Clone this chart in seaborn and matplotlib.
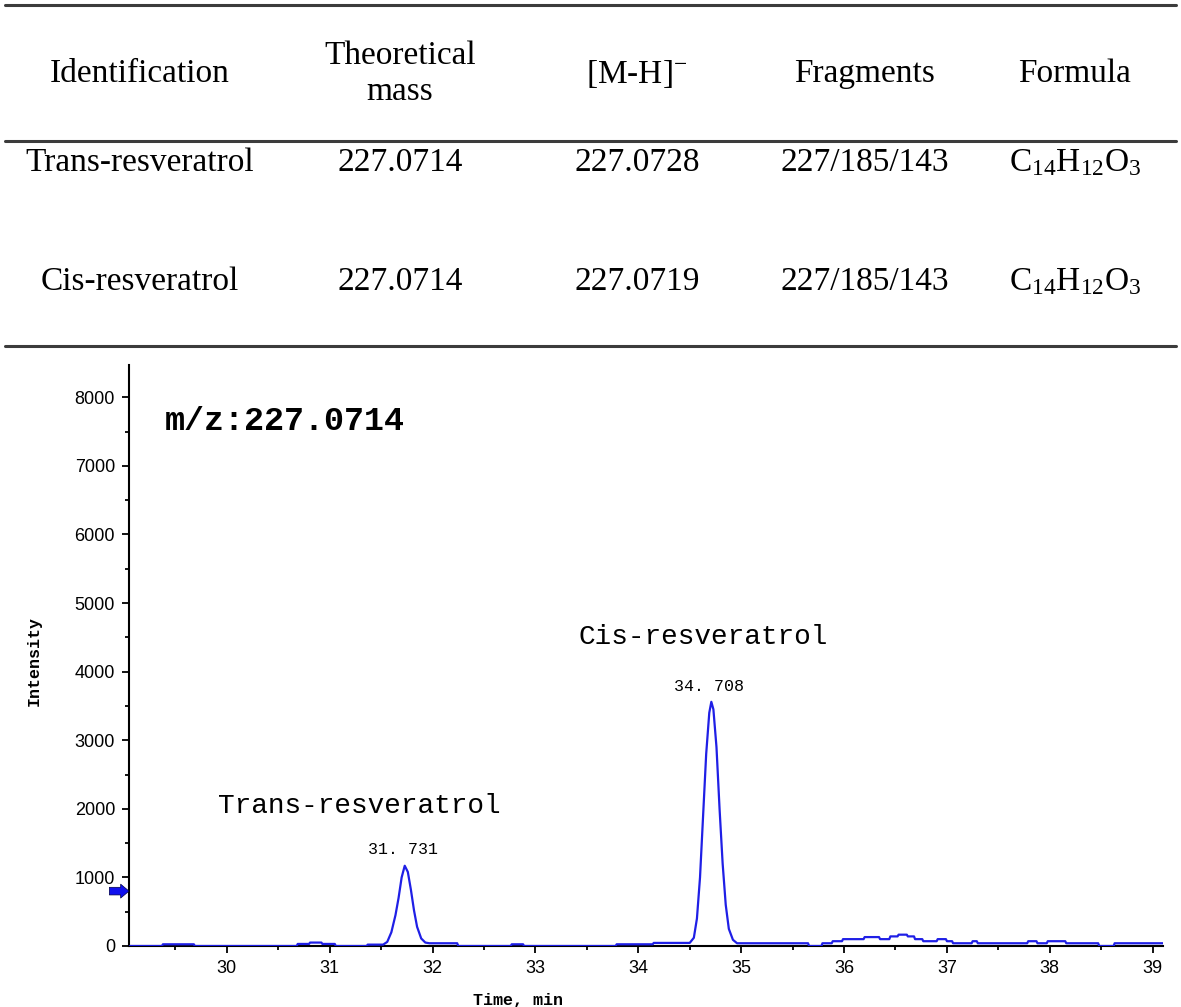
import numpy as np
import pandas as pd
import matplotlib
matplotlib.use("Agg")
import matplotlib.pyplot as plt
import seaborn as sns

# table content
col_headers = ["Identification", "Theoretical\nmass", "[M-H]$^{-}$", "Fragments", "Formula"]
compounds = ["Trans-resveratrol", "Cis-resveratrol"]
theo_mass = ["227.0714", "227.0714"]
measured_mass = ["227.0728", "227.0719"]
fragments = ["227/185/143", "227/185/143"]
formulas = ["C$_{14}$H$_{12}$O$_{3}$", "C$_{14}$H$_{12}$O$_{3}$"]

# extracted ion chromatogram
times = [29.06, 29.37, 29.38, 29.68, 29.69,
         30.68, 30.69, 30.80, 30.81, 30.92, 30.93, 31.05, 31.06,
         31.36, 31.37, 31.52, 31.56, 31.60, 31.64, 31.67, 31.70, 31.73,
         31.76, 31.79, 31.82, 31.85, 31.89, 31.93, 31.97, 32.24, 32.25,
         32.76, 32.77, 32.88, 32.89,
         33.78, 33.79, 34.14, 34.15, 34.50, 34.54, 34.57, 34.60, 34.63,
         34.66, 34.69, 34.71, 34.73, 34.76, 34.79, 34.82, 34.85, 34.88,
         34.92, 34.96, 35.65, 35.66, 35.78, 35.79, 35.88, 35.89, 35.98,
         35.99, 36.19, 36.20, 36.34, 36.35, 36.44, 36.45, 36.52, 36.53,
         36.61, 36.62, 36.68, 36.69, 36.76, 36.77, 36.90, 36.91, 36.99,
         37.00, 37.05, 37.06, 37.24, 37.25, 37.29, 37.30, 37.78, 37.79,
         37.87, 37.88, 37.97, 37.98, 38.15, 38.16, 38.47, 38.48, 38.62,
         38.63, 39.10]
intensity = [0, 0, 25, 25, 0,
             0, 30, 30, 50, 50, 30, 30, 0,
             0, 20, 20, 60, 200, 450, 700, 1000, 1170,
             1080, 820, 520, 280, 110, 50, 40, 40, 0,
             0, 25, 25, 0,
             0, 25, 25, 45, 45, 120, 400, 1000, 1900,
             2800, 3400, 3560, 3450, 2900, 2000, 1200, 600, 250,
             90, 40, 40, 0, 0, 40, 40, 70, 70,
             100, 100, 130, 130, 100, 100, 140, 140, 165,
             165, 140, 140, 100, 100, 70, 70, 100, 100,
             70, 70, 40, 40, 70, 70, 40, 40, 70,
             70, 40, 40, 70, 70, 40, 40, 0, 0,
             40, 40]

peak_times = [31.731, 34.708]
peak_names = ["Trans-resveratrol", "Cis-resveratrol"]

sns.set_style("ticks")
plt.rcParams["mathtext.fontset"] = "custom"
plt.rcParams["mathtext.rm"] = "Liberation Serif"
plt.rcParams["mathtext.it"] = "Liberation Serif:italic"
for key in ["text.color", "axes.labelcolor", "xtick.color", "ytick.color", "axes.edgecolor"]:
    plt.rcParams[key] = "black"

fig = plt.figure(figsize=(11.81, 10.07), dpi=100)

#table part
H = 1007.0
line_col = "#3c3c3c"
for ypx in [5, 141, 346]:
    fig.add_artist(plt.Line2D([0.004, 0.996], [1 - ypx / H, 1 - ypx / H],
                              color=line_col, lw=2.2, transform=fig.transFigure))

col_x = [140 / 1181, 400 / 1181, 637 / 1181, 865 / 1181, 1075 / 1181]
tfont = dict(family="Liberation Serif", fontsize=24, ha="center", va="center")
for cx, txt in zip(col_x, col_headers):
    fig.text(cx, 1 - 74 / H, txt, linespacing=1.25, **tfont)

rows = list(zip(compounds, theo_mass, measured_mass, fragments, formulas))
for ypx, row in zip([163, 282], rows):
    for cx, txt in zip(col_x, row):
        fig.text(cx, 1 - ypx / H, txt, **tfont)

#chromatogram
ax = fig.add_axes([129 / 1181, 1 - 946 / H, 1034 / 1181, 581 / H])
df = pd.DataFrame({"Time": times, "Intensity": intensity})
sns.lineplot(data=df, x="Time", y="Intensity", ax=ax, color="#1f1fe6",
             lw=1.6, estimator=None, zorder=3)

ax.set_xlim(29.05, 39.1)
ax.set_ylim(0, 8470)
ax.set_xticks(np.arange(30, 40))
ax.set_xticks(np.arange(29.5, 39.1, 1.0), minor=True)
ax.set_yticks(np.arange(0, 8001, 1000))
ax.set_yticks(np.arange(500, 8000, 1000), minor=True)
sns.despine(ax=ax)
for s in ["left", "bottom"]:
    ax.spines[s].set_linewidth(1.5)
ax.tick_params(which="major", length=5, width=1.3, labelsize=13, pad=5)
ax.tick_params(which="minor", length=3, width=1.3)
for lab in ax.get_xticklabels() + ax.get_yticklabels():
    lab.set_family("Liberation Sans")

ax.set_xlabel("Time, min", family="Liberation Mono", fontsize=12, fontweight="bold")
ax.set_ylabel("Intensity", family="Liberation Mono", fontsize=12, fontweight="bold")
ax.xaxis.set_label_coords(0.376, -0.081)
ax.yaxis.set_label_coords(-0.084, 0.49)

mono = "Liberation Mono"
ax.text(30.56, 7640, "m/z:227.0714", family=mono, fontsize=24,
        fontweight="bold", ha="center", va="center")

# peak retention time labels above each apex
for pt in peak_times:
    i = int(np.argmin(np.abs(np.array(times) - pt)))
    ax.text(pt - 0.02, intensity[i] + 230, f"{pt:.3f}".replace(".", ". "),
            family=mono, fontsize=12, ha="center", va="center")

ax.text(31.29, 2040, peak_names[0], family=mono, fontsize=20, ha="center", va="center")
ax.text(34.63, 4500, peak_names[1], family=mono, fontsize=20, ha="center", va="center")

# blue marker arrow on the y axis
ax.annotate("", xy=(0.0, 800), xycoords=("axes fraction", "data"),
            xytext=(-0.019, 800), textcoords=("axes fraction", "data"),
            arrowprops=dict(arrowstyle="simple,head_width=1.0,head_length=0.6,tail_width=0.55",
                            color="#1010ee", lw=0.5, ec="#000044", shrinkA=0, shrinkB=0),
            annotation_clip=False)

fig.savefig("out.png", dpi=100)
